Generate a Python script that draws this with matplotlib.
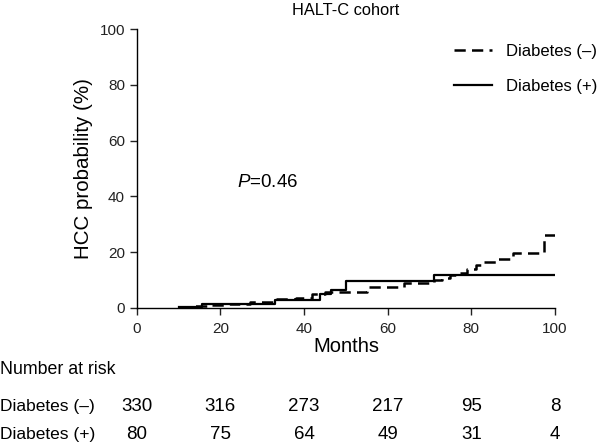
import matplotlib
matplotlib.use("Agg")
import matplotlib.pyplot as plt

plt.rcParams['font.family'] = ['Liberation Sans', 'DejaVu Sans']
plt.rcParams['mathtext.fontset'] = 'custom'
plt.rcParams['mathtext.it'] = 'Liberation Sans:italic'
plt.rcParams['mathtext.rm'] = 'Liberation Sans'

# Diabetes (-) step data (months, cumulative HCC %)
neg_t = [10, 13, 17, 22, 27, 33, 38, 42, 45, 55, 64, 71, 73, 75, 77, 79, 81, 83, 86, 90, 97.4, 100]
neg_y = [0.3, 0.6, 1.0, 1.5, 2.2, 3.1, 3.6, 4.9, 5.8, 7.4, 8.8, 10.0, 10.8, 11.8, 12.6, 14.0, 15.4, 16.5, 17.6, 19.8, 26.0, 26.0]
# Diabetes (+) step data
pos_t = [10, 15.5, 33, 43.8, 46.5, 50, 71, 100]
pos_y = [0.5, 1.3, 3.0, 5.0, 6.4, 9.8, 12.0, 12.0]

x_ticks = [0, 20, 40, 60, 80, 100]
y_ticks = [0, 20, 40, 60, 80, 100]
risk_neg = [330, 316, 273, 217, 95, 8]
risk_pos = [80, 75, 64, 49, 31, 4]

fig = plt.figure(figsize=(6, 4.47), dpi=100)
ax = fig.add_axes([0.228, 0.311, 0.697, 0.624])

ax.step(neg_t, neg_y, where='post', color='black', lw=1.8, linestyle=(0, (4.5, 2.5)),
        label='Diabetes (–)')
ax.step(pos_t, pos_y, where='post', color='black', lw=1.6, label='Diabetes (+)')

ax.set_xlim(0, 100)
ax.set_ylim(0, 100)
ax.set_xticks(x_ticks)
ax.set_yticks(y_ticks)
ax.tick_params(direction='out', length=5, width=1, labelsize=11, colors='#222222')
ax.tick_params(axis='x', pad=5)
for s in ['top', 'right']:
    ax.spines[s].set_visible(False)
for s in ['left', 'bottom']:
    ax.spines[s].set_linewidth(1)

ax.set_ylabel('HCC probability (%)', fontsize=14.8, labelpad=5)
ax.set_xlabel('Months', fontsize=14.5, labelpad=1)
ax.set_title('HALT-C cohort', fontsize=11.8, pad=10)

ax.text(24, 45, '$\\it{P}$=0.46', fontsize=13.5, va='center', ha='left')

ax.legend(loc='upper right', frameon=False, fontsize=12, handlelength=2.3,
          bbox_to_anchor=(1.136, 1.0), labelspacing=1.2)

# Number at risk table
fig.text(0.0, 1 - 369 / 447, 'Number at risk', fontsize=12.8, va='center', ha='left')
fig.text(0.0, 1 - 407 / 447, 'Diabetes (–)', fontsize=12.5, va='center', ha='left')
fig.text(0.0, 1 - 435 / 447, 'Diabetes (+)', fontsize=12.5, va='center', ha='left')
row1_y = 1 - (407 - 29) / (308 - 29)
row2_y = 1 - (435 - 29) / (308 - 29)
for xv, n1, n2 in zip(x_ticks, risk_neg, risk_pos):
    ax.text(xv, row1_y, str(n1), transform=ax.get_xaxis_transform(), fontsize=13.5,
            ha='center', va='center')
    ax.text(xv, row2_y, str(n2), transform=ax.get_xaxis_transform(), fontsize=13.5,
            ha='center', va='center')

fig.savefig('out.png', dpi=100)
